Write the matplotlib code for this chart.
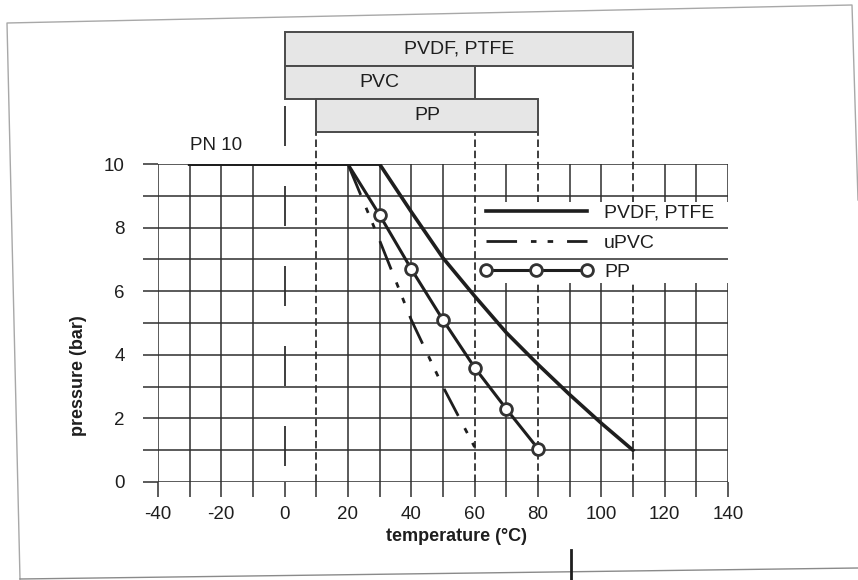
import numpy as np
import matplotlib
matplotlib.use("Agg")
import matplotlib.pyplot as plt
from matplotlib.lines import Line2D

plt.rcParams['font.family'] = ['Liberation Sans', 'DejaVu Sans']
plt.rcParams['axes.unicode_minus'] = False

# pressure / temperature curves (PN 10)
pvdf_t = [-30, 30, 40, 50, 60, 70, 80, 90, 100, 110]
pvdf_p = [10, 10, 8.5, 7.05, 5.85, 4.7, 3.7, 2.75, 1.85, 1.0]
upvc_t = [-30, 20, 30, 40, 50, 60]
upvc_p = [10, 10, 7.6, 5.1, 3.0, 1.1]
pp_t = [-30, 20, 30, 40, 50, 60, 70, 80]
pp_p = [10, 10, 8.4, 6.7, 5.1, 3.6, 2.3, 1.05]

# temperature ranges of the materials (bars above the chart)
bar_labels = ['PVDF, PTFE', 'PVC', 'PP']
bar_start = [0, 0, 10]
bar_end = [110, 60, 80]

xticks = [-40, -20, 0, 20, 40, 60, 80, 100, 120, 140]
yticks = [0, 2, 4, 6, 8, 10]

ink = '#1e1e1e'
grid_c = '#2e2e2e'

fig = plt.figure(figsize=(8.58, 5.8), dpi=100)
ax = fig.add_axes([0.1841, 0.169, 0.6643, 0.548])
ax.set_xlim(-40, 140)
ax.set_ylim(0, 10)
for s in ax.spines.values():
    s.set_visible(False)

# bars on top (one row per material, stacked upwards)
n = len(bar_labels)
bar_h = 1.05
rows = [11.0 + bar_h * (n - 1 - i) + bar_h / 2 for i in range(n)]
for i in range(n):
    ax.barh(rows[i], bar_end[i] - bar_start[i], left=bar_start[i], height=bar_h,
            color='#e6e6e6', edgecolor='#4a4a4a', linewidth=1.4, clip_on=False, zorder=3)
    ax.text((bar_start[i] + bar_end[i]) / 2, rows[i], bar_labels[i], ha='center', va='center',
            fontsize=14, color=ink, zorder=4, clip_on=False)

# dashed guide lines from the bar ends down to the axis
edge_bottom = {}
for i in range(n):
    b = rows[i] - bar_h / 2
    for e in (bar_start[i], bar_end[i]):
        edge_bottom[e] = min(edge_bottom.get(e, 99), b)
for e, b in edge_bottom.items():
    if e == 0:
        ax.plot([e, e], [0.5, b], color=ink, lw=1.2, ls=(0, (24, 24)), clip_on=False, zorder=2)
    else:
        ax.plot([e, e], [0, b], color=ink, lw=1.2, ls=(0, (4.5, 2.2)), clip_on=False, zorder=2)

# grid
xg = [v for v in np.arange(-40, 141, 10) if v not in edge_bottom]
ax.vlines(xg, 0, 10, colors=grid_c, lw=1.1, zorder=1)
ax.hlines(np.arange(0, 11, 1), -40, 140, colors=grid_c, lw=1.1, zorder=6)

ax.set_xticks(xticks)
ax.set_xticks(np.arange(-30, 140, 20), minor=True)
ax.set_yticks(yticks)
ax.set_yticks(np.arange(1, 10, 2), minor=True)
ax.tick_params(which='both', direction='out', length=11, width=1.1, color=grid_c)
ax.tick_params(axis='y', which='major', labelsize=13.5, pad=13, labelcolor=ink)
ax.tick_params(axis='x', which='major', labelsize=13.5, pad=6, labelcolor=ink)

# curves
ax.plot(pvdf_t, pvdf_p, color=ink, lw=2.6, zorder=7, solid_joinstyle='miter', label='PVDF, PTFE')
ax.plot(upvc_t, upvc_p, color=ink, lw=2.0, ls=(0, (11, 5, 2, 4, 2, 5)), zorder=7, label='uPVC')
ax.plot(pp_t, pp_p, color=ink, lw=2.2, marker='o', markevery=slice(2, None), markersize=8.5,
        markerfacecolor='white', markeredgecolor='#333333', markeredgewidth=2, zorder=8, label='PP')

ax.text(-21.5, 10.6, 'PN 10', ha='center', va='center', fontsize=13.5, color=ink)

leg = ax.legend(loc='upper left', bbox_to_anchor=(61, 6.15, 81, 2.65),
                bbox_transform=ax.transData, mode='expand', numpoints=3, fontsize=14,
                frameon=True, fancybox=False, edgecolor='none', facecolor='white', framealpha=1,
                borderpad=0.1, borderaxespad=0, handlelength=5.8, handletextpad=0.6,
                labelspacing=0.62)
for t in leg.get_texts():
    t.set_color(ink)

ax.set_xlabel('temperature (°C)', fontsize=13, fontweight='bold', color=ink)
ax.set_ylabel('pressure (bar)', fontsize=13, fontweight='bold', color=ink)
ax.xaxis.set_label_coords(0.5246, -0.17)
ax.xaxis.label.set_va('center')
ax.yaxis.set_label_coords(-0.14, 0.336)
ax.yaxis.label.set_va('center')

# scanned page border
W, H = 858.0, 580.0
def fp(x, y):
    return x / W, 1 - y / H
border = [(20, 579), (7, 23), (852, 5), (858, 200)]
fig.add_artist(Line2D([fp(*p)[0] for p in border], [fp(*p)[1] for p in border],
                      color='#a8a8a8', lw=1.0))
fig.add_artist(Line2D([fp(20, 579)[0], fp(858, 568)[0]], [fp(20, 579)[1], fp(858, 568)[1]],
                      color='#8a8a8a', lw=1.0))
fig.add_artist(Line2D([fp(571, 550)[0], fp(571, 580)[0]], [fp(571, 550)[1], fp(571, 580)[1]],
                      color=ink, lw=2.0))

fig.savefig('out.png', dpi=100)
